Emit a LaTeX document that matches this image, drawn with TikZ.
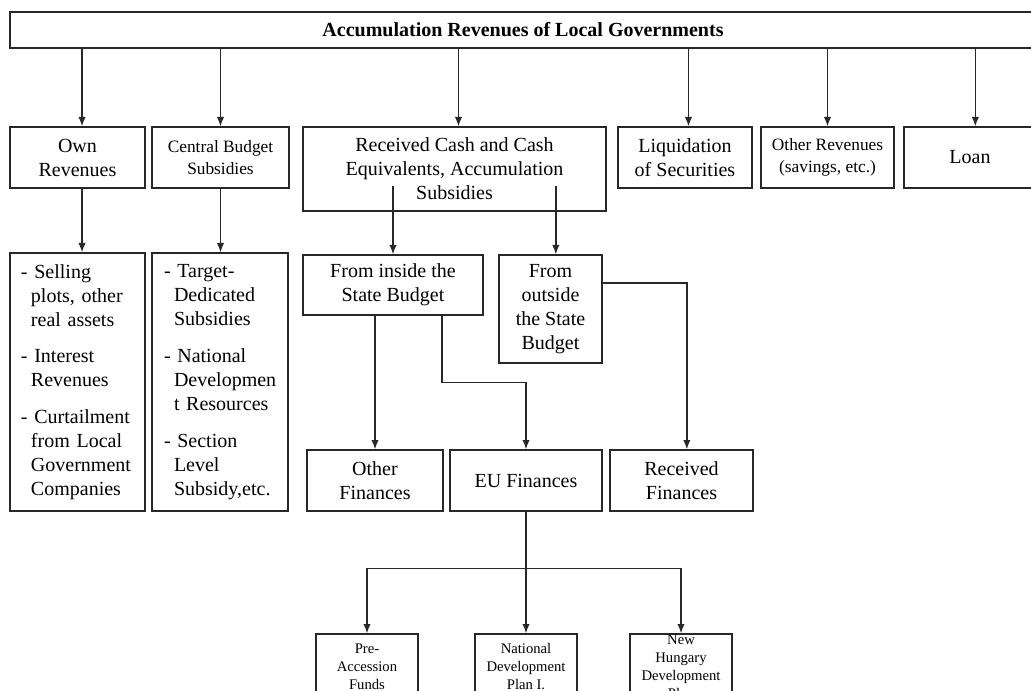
\documentclass[tikz,border=0pt]{standalone}
\usepackage{fontspec}
\setmainfont{Liberation Serif}
\usepackage{tikz}
\usetikzlibrary{arrows.meta,positioning,calc}
\definecolor{linegray}{RGB}{40,40,40}
\newcommand{\bigtxt}{\fontsize{15}{18}\selectfont}
\newcommand{\midtxt}{\fontsize{13}{16.5}\selectfont}
\newcommand{\smalltxt}{\fontsize{11}{13.5}\selectfont}
\newcommand{\listind}{\hspace*{7.5pt}}

\begin{document}
\begin{tikzpicture}[x=0.75pt, y=-0.75pt,
    box/.style={rectangle, draw=linegray, line width=1pt, align=center, inner sep=2pt, font=\bigtxt},
    topbox/.style={box, minimum height=45.75pt},
    listbox/.style={box, align=left, minimum height=193.5pt},
    finbox/.style={box, minimum height=45.75pt},
    smallbox/.style={box, font=\smalltxt, inner ysep=0pt, minimum width=76.5pt, minimum height=49.5pt},
    arr/.style={draw=linegray, line width=1pt, -{Latex[length=7pt,width=5.5pt]}}
]
\useasboundingbox (0,0) rectangle (1031,691);

% Title
\node[box, font=\bigtxt\bfseries, minimum width=769.5pt, minimum height=27pt] (title) at (523,30) {Accumulation Revenues of Local Governments};

% First row
\node[topbox, minimum width=101.25pt] (own) at (77.5,157.5) {Own\\Revenues};
\node[topbox, font=\midtxt, minimum width=102.75pt] (central) at (220.5,157.5) {Central Budget\\Subsidies};
\node[box, minimum width=227.25pt, minimum height=63pt] (received) at (454.5,169) {Received Cash and Cash\\Equivalents, Accumulation\\Subsidies};
\node[topbox, minimum width=100.5pt] (liquid) at (685,157.5) {Liquidation\\of Securities};
\node[topbox, font=\midtxt, minimum width=99.75pt] (otherrev) at (827.5,157.5) {Other Revenues\\(savings, etc.)};
\node[topbox, minimum width=99pt] (loan) at (970,157.5) {Loan};

\coordinate (ownx) at ([xshift=3.4pt]own.north);
\coordinate (recx) at ([xshift=3pt]received.north);
\coordinate (liqx) at ([xshift=2.6pt]liquid.north);
\coordinate (loanx) at ([xshift=4pt]loan.north);

\draw[arr] (title.south -| ownx) -- (ownx);
\draw[arr] (title.south -| central.north) -- (central.north);
\draw[arr] (title.south -| recx) -- (recx);
\draw[arr] (title.south -| liqx) -- (liqx);
\draw[arr] (title.south -| otherrev.north) -- (otherrev.north);
\draw[arr] (title.south -| loanx) -- (loanx);

% Lists
\node[listbox, inner xsep=8.25pt, text width=84.75pt] (ownlist) at (77.5,382) {- Selling\\\listind plots, other\\\listind real assets\\[9.5pt]- Interest\\\listind Revenues\\[9.5pt]- Curtailment\\\listind from Local\\\listind Government\\\listind Companies};
\node[listbox, inner xsep=9pt, text width=84pt] (cenlist) at (220,382) {- Target-\\\listind Dedicated\\\listind Subsidies\\[9.5pt]- National\\\listind \mbox{Developmen}\\\listind t Resources\\[9.5pt]- Section\\\listind Level\\\listind Subsidy,etc.};

\draw[arr] (own.south -| ownx) -- (ownlist.north -| ownx);
\draw[arr] (central.south) -- (cenlist.north -| central.south);

% State budget
\node[box, minimum width=135pt, minimum height=45pt] (inside) at (393,285) {From inside the\\State Budget};
\node[box, minimum width=77.25pt, minimum height=81pt] (outside) at (550.5,309) {From\\outside\\the State\\Budget};

\coordinate (outx) at ([xshift=4pt]outside.north);
\draw[arr] ([yshift=19.5pt]received.south -| inside.north) -- (inside.north);
\draw[arr] ([yshift=19.5pt]received.south -| outx) -- (outx);

% Finances
\node[finbox, minimum width=102pt] (otherfin) at (375,480.5) {Other\\Finances};
\node[finbox, minimum width=114pt] (eufin) at (526,480.5) {EU Finances};
\node[finbox, minimum width=107.25pt] (recfin) at (681.5,480.5) {Received\\Finances};

\coordinate (recfx) at ([xshift=4pt]recfin.north);
\draw[arr] (inside.south -| otherfin.north) -- (otherfin.north);
\draw[arr] ([xshift=36.75pt]inside.south) |- ($(inside.south)!0.5!(eufin.north)$) -| (eufin.north);
\draw[arr] ([yshift=19.5pt]outside.east) -| (recfx);

% EU funds
\node[smallbox] (pre) at (367,667) {Pre-\\Accession\\Funds};
\node[smallbox] (ndp) at (526,667) {National\\Development\\Plan I.};
\node[smallbox] (nhdp) at (681,667) {New\\Hungary\\Development\\Plan};

\coordinate (split) at ($(eufin.south)+(0,-42.75pt)$);
\draw[arr] (eufin.south) -- (ndp.north);
\draw[arr] (split) -| (pre.north);
\draw[arr] (split) -| (nhdp.north);

\end{tikzpicture}
\end{document}
